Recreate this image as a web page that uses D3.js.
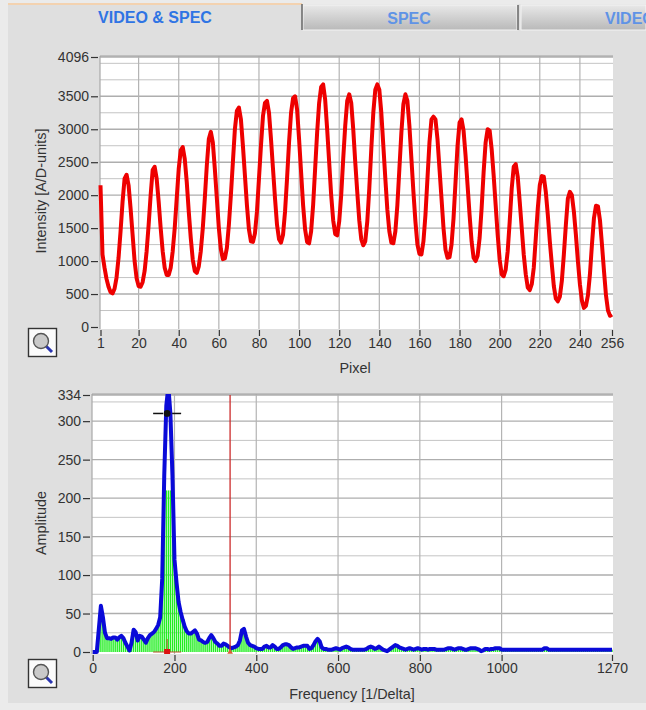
<!DOCTYPE html>
<html lang="en">
<head>
<meta charset="UTF-8">
<title>VIDEO &amp; SPEC</title>
<script src="https://cdn.jsdelivr.net/npm/d3@7"></script>
<style>
    html, body { margin: 0; padding: 0; background: #dfdfdf; overflow: hidden; }
    svg { display: block; }
    text { font-family: "Liberation Sans", Arial, sans-serif; fill: #333; }
    .tick text { font-size: 14px; }
    .title { font-size: 14.4px; }
</style>
</head>
<body>
<svg id="chart" width="646" height="710"></svg>
<script>
// tabs
const tabLabels = ['VIDEO & SPEC', 'SPEC', 'VIDEO'];

// upper plot, intensity per pixel (1..256)
const intensity = [
    2150, 1100, 900, 730, 610, 530, 510, 580, 750, 1050, 1450, 1900, 2250, 2310, 2150, 1800,
    1400, 1000, 740, 620, 610, 680, 850, 1150, 1550, 2000, 2380, 2430, 2250, 1900, 1500, 1150,
    900, 790, 790, 900, 1150, 1500, 1950, 2400, 2680, 2730, 2550, 2200, 1750, 1350, 1020, 850,
    820, 920, 1150, 1500, 1950, 2450, 2850, 2960, 2800, 2400, 1950, 1500, 1180, 1030, 1040, 1200,
    1550, 2000, 2500, 3000, 3280, 3330, 3150, 2750, 2300, 1850, 1480, 1300, 1290, 1420, 1750, 2250,
    2750, 3200, 3400, 3430, 3250, 2850, 2400, 1950, 1550, 1330, 1280, 1400, 1750, 2250, 2800, 3250,
    3470, 3500, 3300, 2850, 2350, 1850, 1480, 1290, 1270, 1450, 1850, 2400, 2950, 3400, 3640, 3680,
    3450, 3000, 2500, 2000, 1620, 1410, 1390, 1600, 2000, 2550, 3050, 3430, 3530, 3400, 3000, 2500,
    2050, 1620, 1330, 1240, 1300, 1600, 2100, 2700, 3250, 3600, 3680, 3600, 3250, 2750, 2250, 1780,
    1450, 1280, 1270, 1450, 1850, 2400, 2950, 3380, 3530, 3430, 3050, 2550, 2050, 1600, 1250, 1110,
    1100, 1300, 1700, 2250, 2800, 3150, 3190, 3150, 2850, 2400, 1950, 1500, 1170, 1050, 1060, 1250,
    1650, 2200, 2750, 3100, 3150, 2980, 2600, 2150, 1700, 1300, 1050, 1000, 1080, 1350, 1800, 2350,
    2800, 3000, 2980, 2700, 2300, 1850, 1400, 1020, 800, 770, 870, 1150, 1600, 2100, 2430, 2470,
    2280, 1900, 1500, 1100, 800, 600, 560, 650, 900, 1350, 1800, 2150, 2290, 2280, 2050, 1700,
    1300, 950, 620, 430, 390, 460, 700, 1100, 1550, 1950, 2050, 2000, 1750, 1400, 1000, 650,
    400, 290, 320, 480, 800, 1250, 1650, 1840, 1830, 1620, 1250, 850, 480, 250, 170, 190
];
const pixelTicks = [1, 20, 40, 60, 80, 100, 120, 140, 160, 180, 200, 220, 240, 256];
const intensityTicks = [0, 500, 1000, 1500, 2000, 2500, 3000, 3500, 4096];
const intensityMinor = [250, 750, 1250, 1750, 2250, 2750, 3250, 3750, 4000];

// lower plot, amplitude per frequency bin (one bin every 5 1/Delta)
const binStep = 5;
const amplitude = [
    0, 0, 0, 30, 60, 45, 25, 18, 18, 17, 19, 19, 16, 19, 21, 18,
    12, 7, 2, 12, 29, 26, 15, 21, 20, 16, 12, 18, 22, 24, 26, 30,
    35, 45, 95, 230, 320, 345, 310, 230, 120, 90, 65, 52, 42, 33, 27, 24,
    24, 26, 28, 24, 16, 15, 13, 12, 13, 18, 22, 18, 13, 11, 8, 8,
    11, 10, 8, 6, 5, 6, 7, 9, 15, 28, 30, 20, 12, 9, 8, 7,
    5, 4, 4, 4, 7, 8, 6, 6, 9, 7, 4, 4, 6, 9, 10, 10,
    9, 6, 4, 5, 6, 6, 7, 8, 8, 8, 4, 5, 9, 14, 17, 14,
    6, 4, 4, 3, 3, 3, 4, 5, 4, 3, 5, 6, 7, 6, 4, 3,
    3, 3, 3, 3, 3, 3, 4, 6, 7, 6, 4, 5, 7, 5, 3, 2,
    1, 3, 5, 7, 9, 8, 6, 5, 4, 3, 4, 5, 4, 3, 4, 5,
    4, 3, 4, 4, 3, 4, 4, 4, 3, 3, 3, 3, 3, 4, 5, 5,
    4, 3, 4, 5, 5, 4, 3, 3, 4, 5, 5, 5, 4, 3, 1, 2,
    4, 4, 3, 4, 4, 5, 5, 5, 3, 3, 3, 3, 3, 3, 3, 3,
    3, 3, 3, 3, 3, 3, 3, 3, 3, 3, 3, 3, 3, 5, 5, 3,
    3, 3, 3, 3, 3, 3, 3, 3, 3, 3, 3, 3, 3, 3, 3, 3,
    3, 3, 3, 3, 3, 3, 3, 3, 3, 3, 3, 3, 3, 3, 3
];
const freqTicks = [0, 200, 400, 600, 800, 1000, 1270];
const ampTicks = [0, 50, 100, 150, 200, 250, 300, 334];
const ampMinor = [25, 75, 125, 175, 225, 275, 325];
const peakMarker = {freq: 182, amp: 310};
const cursorFreq = 336;
// the green bars stop short of the tip of the main peak
const barCap = 210;

const svg = d3.select('#chart');

// background and tabs
const defs = svg.append('defs');
const grad = defs.append('linearGradient').attr('id', 'tabGrad').attr('x1', 0).attr('x2', 0).attr('y1', 0).attr('y2', 1);
grad.append('stop').attr('offset', '0%').attr('stop-color', '#e8e8e8');
grad.append('stop').attr('offset', '100%').attr('stop-color', '#b9b9b9');

svg.append('rect').attr('width', 646).attr('height', 710).attr('fill', '#ebebeb');
svg.append('rect').attr('x', 8).attr('y', 4).attr('width', 638).attr('height', 699).attr('fill', '#dfdfdf');
svg.append('rect').attr('x', 8).attr('y', 3).attr('width', 294).attr('height', 2).attr('fill', '#f3d2b0');

const tabs = [
    {x: 303, w: 214},
    {x: 521, w: 125}
];
tabs.forEach(t => {
    svg.append('rect').attr('x', t.x).attr('y', 5).attr('width', t.w).attr('height', 25)
        .attr('fill', 'url(#tabGrad)').attr('stroke', '#f4f4f4');
});
svg.append('line').attr('x1', 302).attr('x2', 302).attr('y1', 4).attr('y2', 30).attr('stroke', '#666').attr('stroke-width', 1.5);
svg.append('line').attr('x1', 518).attr('x2', 518).attr('y1', 5).attr('y2', 30).attr('stroke', '#666').attr('stroke-width', 1.5);

svg.selectAll('.tab-label').data(tabLabels).join('text')
    .attr('class', 'tab-label')
    .attr('x', (d, i) => [155, 409, 605][i])
    .attr('y', (d, i) => i === 0 ? 22.5 : 23.5)
    .attr('text-anchor', (d, i) => i === 2 ? 'start' : 'middle')
    .attr('font-size', 16)
    .attr('font-weight', 'bold')
    .style('fill', (d, i) => i === 0 ? '#2f74e4' : '#5f93e6')
    .text(d => d);

// shared drawing of one plot frame: white area, grid and axes
function drawFrame(cfg) {
    const g = svg.append('g');
    const [y0, y1] = cfg.y.range();
    g.append('rect')
        .attr('x', cfg.left).attr('y', y1 - 1)
        .attr('width', cfg.right - cfg.left).attr('height', cfg.bottom - y1 + 1)
        .attr('fill', '#fff');
    g.selectAll('.minor').data(cfg.yMinor).join('line')
        .attr('x1', cfg.left).attr('x2', cfg.right)
        .attr('y1', d => cfg.y(d)).attr('y2', d => cfg.y(d))
        .attr('stroke', '#c4c4c4').attr('stroke-width', 1);
    g.selectAll('.major').data(cfg.yTicks.slice(1)).join('line')
        .attr('x1', cfg.left).attr('x2', cfg.right)
        .attr('y1', d => cfg.y(d)).attr('y2', d => cfg.y(d))
        .attr('stroke', '#aeaeae').attr('stroke-width', 1.4);
    g.selectAll('.vgrid').data(cfg.xTicks.slice(1, -1)).join('line')
        .attr('x1', d => cfg.x(d)).attr('x2', d => cfg.x(d))
        .attr('y1', y1 - 1).attr('y2', cfg.bottom)
        .attr('stroke', '#b4b4b4').attr('stroke-width', 1.2);
    g.append('line')
        .attr('x1', cfg.left).attr('x2', cfg.left)
        .attr('y1', y1 - 1).attr('y2', cfg.bottom)
        .attr('stroke', '#a8a8a8').attr('stroke-width', 1.2);
    g.append('line')
        .attr('x1', cfg.left).attr('x2', cfg.right)
        .attr('y1', y1 - 1).attr('y2', y1 - 1)
        .attr('stroke', '#a0a0a0').attr('stroke-width', 1.2);

    const yAxis = d3.axisLeft(cfg.y).tickValues(cfg.yTicks).tickFormat(d3.format('d')).tickSize(7).tickPadding(2);
    svg.append('g').attr('transform', `translate(${cfg.left - 2},0)`).call(yAxis)
        .call(a => a.select('.domain').remove())
        .call(a => a.selectAll('line').attr('stroke', '#333').attr('stroke-width', 1.2));

    const xAxis = d3.axisBottom(cfg.x).tickValues(cfg.xTicks).tickFormat(d3.format('d')).tickSize(6).tickPadding(2);
    svg.append('g').attr('transform', `translate(0,${cfg.bottom + 1})`).call(xAxis)
        .call(a => a.select('.domain').remove())
        .call(a => a.selectAll('line').attr('stroke', '#333').attr('stroke-width', 1.2));

    svg.append('text').attr('class', 'title')
        .attr('x', cfg.xTitle[0]).attr('y', cfg.xTitle[1])
        .attr('text-anchor', 'middle').text(cfg.xLabel);
    svg.append('text').attr('class', 'title')
        .attr('transform', `translate(${cfg.yTitle[0]},${cfg.yTitle[1]}) rotate(-90)`)
        .attr('text-anchor', 'middle').text(cfg.yLabel);

    // zoom button
    const b = svg.append('g').attr('transform', `translate(28,${cfg.button})`);
    b.append('rect').attr('x', 0.5).attr('y', 0.5).attr('width', 28).attr('height', 28)
        .attr('fill', '#fbfbfb').attr('stroke', '#333').attr('stroke-width', 1.4);
    b.append('line').attr('x1', 18).attr('y1', 18).attr('x2', 24).attr('y2', 24)
        .attr('stroke', '#2a35b0').attr('stroke-width', 3);
    b.append('circle').attr('cx', 13).attr('cy', 13).attr('r', 7.5)
        .attr('fill', '#c9c9c9').attr('stroke', '#555').attr('stroke-width', 1.4);
}

// upper plot
const xPixel = d3.scaleLinear().domain([1, 256]).range([100.5, 612]);
const yIntensity = d3.scaleLinear().domain([0, 4096]).range([327, 57]);

drawFrame({
    x: xPixel, y: yIntensity,
    left: 100, right: 613, bottom: 329,
    xTicks: pixelTicks, yTicks: intensityTicks, yMinor: intensityMinor,
    xLabel: 'Pixel', yLabel: 'Intensity [A/D-units]',
    xTitle: [355, 373], yTitle: [46, 191],
    button: 328
});

svg.append('path')
    .datum(intensity)
    .attr('fill', 'none')
    .attr('stroke', '#ee0000')
    .attr('stroke-width', 4)
    .attr('stroke-linejoin', 'round')
    .attr('d', d3.line().x((d, i) => xPixel(i + 1)).y(d => yIntensity(d)));

// lower plot
const xFreq = d3.scaleLinear().domain([0, 1270]).range([92.7, 612]);
const yAmp = d3.scaleLinear().domain([0, 334]).range([652, 395]);

drawFrame({
    x: xFreq, y: yAmp,
    left: 92, right: 613, bottom: 654,
    xTicks: freqTicks, yTicks: ampTicks, yMinor: ampMinor,
    xLabel: 'Frequency [1/Delta]', yLabel: 'Amplitude',
    xTitle: [352, 699], yTitle: [46, 523],
    button: 659
});

defs.append('clipPath').attr('id', 'ampClip').append('rect')
    .attr('x', 92).attr('y', 394).attr('width', 521).attr('height', 262);

const spec = svg.append('g').attr('clip-path', 'url(#ampClip)');

spec.selectAll('.bar').data(amplitude).join('rect')
    .attr('class', 'bar')
    .attr('x', (d, i) => xFreq(i * binStep) - 0.7)
    .attr('width', 1.4)
    .attr('y', d => yAmp(Math.min(d, barCap)))
    .attr('height', d => yAmp(0) - yAmp(Math.min(d, barCap)))
    .attr('fill', '#22ee22');

spec.append('path')
    .datum(amplitude)
    .attr('fill', 'none')
    .attr('stroke', '#0a0ad8')
    .attr('stroke-width', 4)
    .attr('stroke-linejoin', 'round')
    .attr('d', d3.line().x((d, i) => xFreq(i * binStep)).y(d => yAmp(d)));

// cursor line
spec.append('line')
    .attr('x1', xFreq(cursorFreq)).attr('x2', xFreq(cursorFreq))
    .attr('y1', yAmp(334)).attr('y2', yAmp(0))
    .attr('stroke', '#cc2a2a').attr('stroke-width', 1.3);
svg.append('path')
    .attr('d', d3.symbol(d3.symbolTriangle, 14)())
    .attr('transform', `translate(${xFreq(cursorFreq)},${yAmp(0)})`)
    .attr('fill', '#d9603a');

// peak marker with crosshair, black at the peak and red on the baseline
const px = xFreq(peakMarker.freq);
const py = yAmp(peakMarker.amp);
[[-14, -4], [5, 14]].forEach(([a, b]) => {
    svg.append('line').attr('x1', px + a).attr('x2', px + b).attr('y1', py).attr('y2', py)
        .attr('stroke', '#111').attr('stroke-width', 1.5);
});
svg.append('circle').attr('cx', px).attr('cy', py).attr('r', 3.4).attr('fill', '#111');

const by = yAmp(0);
svg.append('line').attr('x1', px - 14).attr('x2', px + 14).attr('y1', by).attr('y2', by)
    .attr('stroke', '#b5502a').attr('stroke-width', 1);
svg.append('line').attr('x1', px).attr('x2', px).attr('y1', by - 13).attr('y2', by)
    .attr('stroke', '#b5502a').attr('stroke-width', 1);
svg.append('rect').attr('x', px - 3).attr('y', by - 3).attr('width', 6).attr('height', 5).attr('fill', '#dd1111');
</script>
</body>
</html>
